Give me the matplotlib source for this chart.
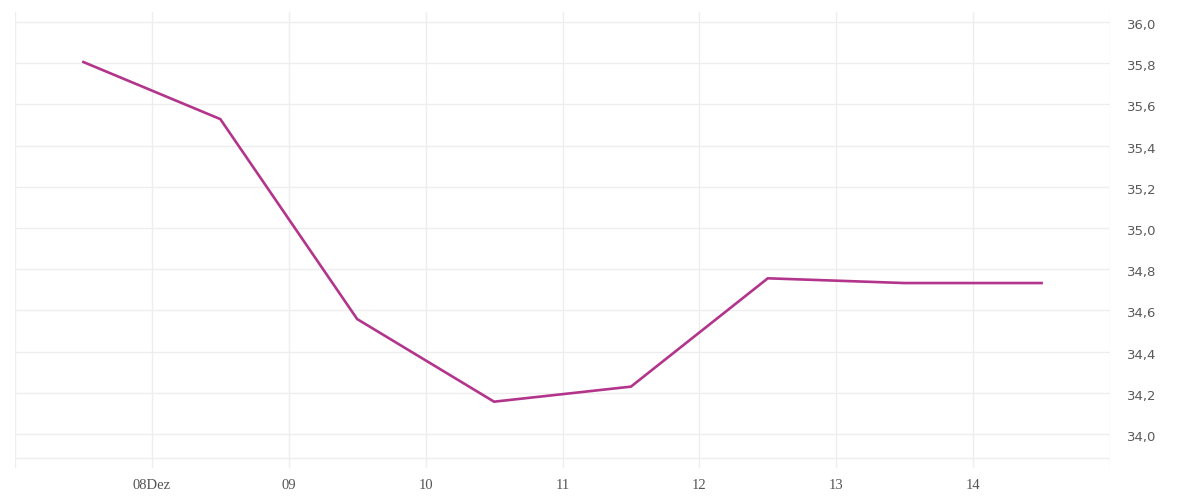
import matplotlib
matplotlib.use('Agg')
import numpy as np
from matplotlib import pyplot as plt
from matplotlib.ticker import FuncFormatter

# data (x in days of December, points sit mid-day)
days = [7.5, 8.5, 9.5, 10.5, 11.5, 12.5, 13.5, 14.5]
values = [35.806, 35.529, 34.558, 34.157, 34.230, 34.756, 34.733, 34.733]

x_ticks = [8, 9, 10, 11, 12, 13, 14]
x_labels = ['08Dez', '09', '10', '11', '12', '13', '14']
y_ticks = [34.0, 34.2, 34.4, 34.6, 34.8, 35.0, 35.2, 35.4, 35.6, 35.8, 36.0]

grid_color = '#eeeeee'
line_color = '#b3348b'
text_color = '#555555'

fig = plt.figure(figsize=(12, 5), dpi=100)
ax = fig.add_axes([15 / 1200, 1 - 468 / 500, 1095 / 1200, 456 / 500])

ax.plot(days, values, color=line_color, linewidth=1.9, solid_joinstyle='miter', zorder=3)

ax.set_xlim(7.0, 15.0)
ax.set_ylim(33.835, 36.049)

# grid lines drawn by hand so the frame edges match
for d in [7] + x_ticks + [15]:
    ax.axvline(d, color=grid_color, linewidth=1, zorder=1)
for v in y_ticks + [33.883]:
    ax.axhline(v, color=grid_color, linewidth=1, zorder=1)

ax.set_xticks(x_ticks)
ax.set_xticklabels(x_labels, fontfamily='Liberation Serif', fontsize=10.5, color=text_color)
ax.set_yticks(y_ticks)
ax.yaxis.set_major_formatter(FuncFormatter(lambda v, _: f'{v:.1f}'.replace('.', ',')))
ax.yaxis.tick_right()
ax.tick_params(axis='both', length=0)
ax.tick_params(axis='x', pad=8)
ax.tick_params(axis='y', pad=12)
# labels sit a touch below their grid lines in the reference
for lbl in ax.get_yticklabels():
    lbl.set_fontfamily('DejaVu Sans')
    lbl.set_fontsize(9.5)
    lbl.set_color('#5a5a5a')
    lbl.set_transform(lbl.get_transform() + matplotlib.transforms.ScaledTranslation(0, -2 / 100, fig.dpi_scale_trans))

for side in ax.spines.values():
    side.set_visible(False)

fig.savefig('out.png', dpi=100)
